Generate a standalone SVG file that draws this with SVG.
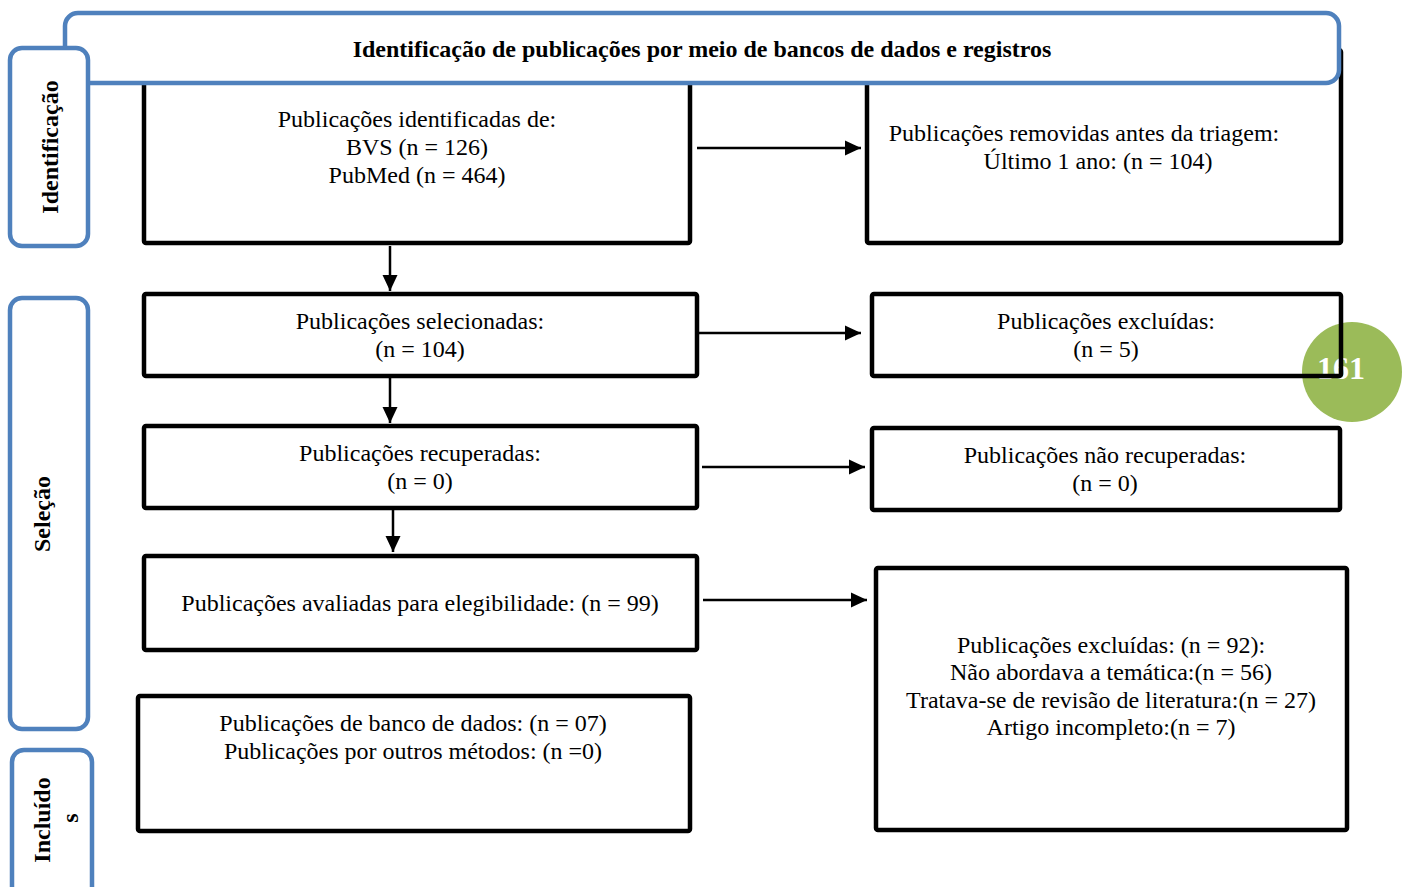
<svg xmlns="http://www.w3.org/2000/svg" width="1411" height="887" viewBox="0 0 1411 887">
<defs>
<marker id="ah" markerWidth="16" markerHeight="16" refX="16" refY="8" orient="auto" markerUnits="userSpaceOnUse" viewBox="0 0 16 16">
<path d="M0,0.5 L16,8 L0,15.5 Z" fill="#000"/>
</marker>
<style>
.box{fill:#fff;stroke:#000;stroke-width:4.5;}
.boxn{fill:none;stroke:#000;stroke-width:4.5;}
.side{fill:#fff;stroke:#4F81BD;stroke-width:4.5;}
.t{font-family:"Liberation Serif","Times New Roman",serif;font-size:24px;fill:#000;text-anchor:middle;}
.b{font-family:"Liberation Serif","Times New Roman",serif;font-size:24px;font-weight:bold;fill:#000;text-anchor:middle;}
.c{stroke:#000;stroke-width:2.5;fill:none;}
</style>
</defs>
<rect width="1411" height="887" fill="#fff"/>

<g id="n-identificadas">
<rect class="box" x="144" y="70" width="546" height="173" rx="2"/>
<text class="t" x="417" y="127">Publicações identificadas de:</text>
<text class="t" x="417" y="155">BVS (n = 126)</text>
<text class="t" x="417" y="183">PubMed (n = 464)</text>
</g>

<g id="n-removidas">
<rect class="box" x="867" y="50" width="474" height="193" rx="2"/>
<text class="t" x="1084" y="141">Publicações removidas antes da triagem:</text>
<text class="t" x="1098" y="169">Último 1 ano: (n = 104)</text>
</g>

<g id="n-banner">
<rect x="65" y="13" width="1274" height="70" rx="13" fill="#fff" stroke="#4F81BD" stroke-width="4.5"/>
<text class="b" x="702" y="57">Identificação de publicações por meio de bancos de dados e registros</text>
</g>

<g id="n-side-identificacao">
<rect class="side" x="10" y="48" width="78" height="198" rx="12"/>
<text class="b" transform="translate(58,147) rotate(-90)">Identificação</text>
</g>

<g id="n-side-selecao">
<rect class="side" x="10" y="298" width="78" height="431" rx="12"/>
<text class="b" transform="translate(50,514) rotate(-90)">Seleção</text>
</g>

<g id="n-side-incluidos">
<rect class="side" x="12" y="750" width="80" height="150" rx="12"/>
<text class="b" transform="translate(50,820) rotate(-90)">Incluído</text>
<text class="b" transform="translate(78,818) rotate(-90)">s</text>
</g>

<g id="n-selecionadas">
<rect class="box" x="144" y="294" width="553" height="82" rx="2"/>
<text class="t" x="420" y="329">Publicações selecionadas:</text>
<text class="t" x="420" y="357">(n = 104)</text>
</g>

<g id="n-badge">
<circle cx="1352" cy="372" r="50" fill="#9BBB59"/>
<text x="1341" y="379" font-family="Liberation Serif, Times New Roman, serif" font-size="32" font-weight="bold" fill="#fff" text-anchor="middle">161</text>
</g>

<g id="n-excluidas">
<rect class="boxn" x="872" y="294" width="469" height="82" rx="2"/>
<text class="t" x="1106" y="329">Publicações excluídas:</text>
<text class="t" x="1106" y="357">(n = 5)</text>
</g>

<g id="n-recuperadas">
<rect class="box" x="144" y="426" width="553" height="82" rx="2"/>
<text class="t" x="420" y="461">Publicações recuperadas:</text>
<text class="t" x="420" y="489">(n = 0)</text>
</g>

<g id="n-nao-recuperadas">
<rect class="box" x="872" y="428" width="468" height="82" rx="2"/>
<text class="t" x="1105" y="463">Publicações não recuperadas:</text>
<text class="t" x="1105" y="491">(n = 0)</text>
</g>

<g id="n-avaliadas">
<rect class="box" x="144" y="556" width="553" height="94" rx="2"/>
<text class="t" x="420" y="611">Publicações avaliadas para elegibilidade: (n = 99)</text>
</g>

<g id="n-excluidas-92">
<rect class="box" x="876" y="568" width="471" height="262" rx="2"/>
<text class="t" x="1111" y="653">Publicações excluídas: (n = 92):</text>
<text class="t" x="1111" y="680">Não abordava a temática:(n = 56)</text>
<text class="t" x="1111" y="708">Tratava-se de revisão de literatura:(n = 27)</text>
<text class="t" x="1111" y="735">Artigo incompleto:(n = 7)</text>
</g>

<g id="n-incluidos">
<rect class="box" x="138" y="696" width="552" height="135" rx="2"/>
<text class="t" x="413" y="731">Publicações de banco de dados: (n = 07)</text>
<text class="t" x="413" y="759">Publicações por outros métodos: (n =0)</text>
</g>

<g id="connectors">
<line class="c" x1="697" y1="148" x2="861" y2="148" marker-end="url(#ah)"/>
<line class="c" x1="390" y1="246" x2="390" y2="291" marker-end="url(#ah)"/>
<line class="c" x1="697" y1="333" x2="861" y2="333" marker-end="url(#ah)"/>
<line class="c" x1="390" y1="378" x2="390" y2="423" marker-end="url(#ah)"/>
<line class="c" x1="702" y1="467" x2="865" y2="467" marker-end="url(#ah)"/>
<line class="c" x1="393" y1="510" x2="393" y2="552" marker-end="url(#ah)"/>
<line class="c" x1="703" y1="600" x2="867" y2="600" marker-end="url(#ah)"/>
</g>
</svg>
